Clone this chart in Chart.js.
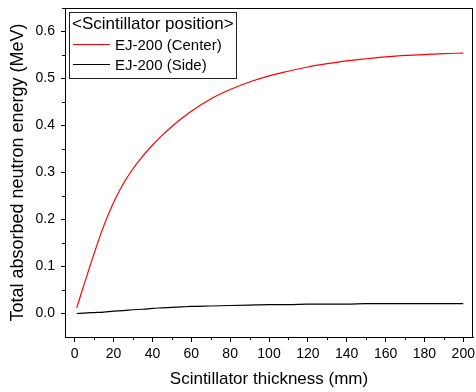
<!DOCTYPE html>
<html>
<head>
<meta charset="utf-8">
<script src="https://cdn.jsdelivr.net/npm/chart.js@4"></script>
<style>
  html, body { margin: 0; padding: 0; background: #fff; }
  #wrap { width: 476px; height: 392px; }
</style>
</head>
<body>
<div id="wrap"><canvas id="chart" width="476" height="392"></canvas></div>
<script>
const thickness = [1, 5, 10, 15, 20, 25, 30, 35, 40, 45, 50, 55, 60, 70, 80, 90, 100, 110, 120, 130, 140, 150, 160, 170, 180, 190, 200];
const centerEnergy = [0.012, 0.064, 0.128, 0.187, 0.236, 0.276, 0.308, 0.335, 0.358, 0.379, 0.398, 0.415, 0.4305, 0.4565, 0.4765, 0.4925, 0.5055, 0.5155, 0.5245, 0.5315, 0.5375, 0.542, 0.546, 0.549, 0.551, 0.553, 0.554];
const sideEnergy = [0.000, 0.001, 0.002, 0.003, 0.005, 0.006, 0.008, 0.009, 0.011, 0.012, 0.013, 0.014, 0.015, 0.016, 0.017, 0.018, 0.019, 0.019, 0.020, 0.020, 0.020, 0.021, 0.021, 0.021, 0.021, 0.021, 0.021];
const xTicks = [0, 20, 40, 60, 80, 100, 120, 140, 160, 180, 200];
const yTicks = [0.0, 0.1, 0.2, 0.3, 0.4, 0.5, 0.6];
const legendTitle = '<Scintillator position>';

const FONT = 'Liberation Sans, Arial, sans-serif';

function toPoints(xs, ys) {
    return xs.map(function (x, i) { return { x: x, y: ys[i] }; });
}

// frame, minor ticks and the boxed legend inside the plot
const extras = {
    id: 'extras',
    afterDraw: function (chart) {
        const ctx = chart.ctx;
        const a = chart.chartArea;
        const xs = chart.scales.x;
        const ys = chart.scales.y;
        ctx.save();
        ctx.strokeStyle = '#000';
        ctx.lineWidth = 1;
        ctx.strokeRect(Math.round(a.left) + 0.5, Math.round(a.top) + 0.5,
            Math.round(a.right - a.left) - 1, Math.round(a.bottom - a.top));

        // minor ticks
        ctx.beginPath();
        for (let v = 10; v < 200; v += 20) {
            const px = Math.round(xs.getPixelForValue(v)) + 0.5;
            ctx.moveTo(px, a.bottom);
            ctx.lineTo(px, a.bottom + 3);
        }
        for (let v = 0.05; v < 0.65; v += 0.1) {
            const py = Math.round(ys.getPixelForValue(v)) + 0.5;
            ctx.moveTo(a.left, py);
            ctx.lineTo(a.left - 3, py);
        }
        ctx.stroke();

        // legend
        ctx.strokeStyle = '#222';
        ctx.strokeRect(69.5, 12.5, 167, 66);
        ctx.fillStyle = '#000';
        ctx.textBaseline = 'middle';
        ctx.textAlign = 'left';
        ctx.font = '17px ' + FONT;
        ctx.fillText(legendTitle, 72, 24);
        ctx.font = '15px ' + FONT;
        const rows = [46, 66];
        chart.data.datasets.forEach(function (ds, i) {
            ctx.strokeStyle = ds.borderColor;
            ctx.beginPath();
            ctx.moveTo(73, rows[i] - 1.5);
            ctx.lineTo(110, rows[i] - 1.5);
            ctx.stroke();
            ctx.fillText(ds.label, 115, rows[i]);
        });
        ctx.restore();
    }
};

new Chart(document.getElementById('chart'), {
    type: 'line',
    data: {
        datasets: [
            {
                label: 'EJ-200 (Center)',
                data: toPoints(thickness, centerEnergy),
                borderColor: '#ff0000',
                borderWidth: 1.2,
                pointRadius: 0,
                cubicInterpolationMode: 'monotone',
                fill: false
            },
            {
                label: 'EJ-200 (Side)',
                data: toPoints(thickness, sideEnergy),
                borderColor: '#000000',
                borderWidth: 1.2,
                pointRadius: 0,
                cubicInterpolationMode: 'monotone',
                fill: false
            }
        ]
    },
    options: {
        responsive: false,
        animation: false,
        layout: { padding: { top: 8, right: 3, left: 0, bottom: 0 } },
        plugins: {
            legend: { display: false },
            tooltip: { enabled: false }
        },
        scales: {
            x: {
                type: 'linear',
                min: -5,
                max: 205,
                afterBuildTicks: function (scale) {
                    scale.ticks = xTicks.map(function (v) { return { value: v }; });
                },
                afterFit: function (scale) {
                    scale.height = 55;
                    scale.paddingLeft = 0;
                    scale.paddingRight = 0;
                },
                grid: { drawOnChartArea: false, drawTicks: true, tickLength: 5, color: '#000', tickColor: '#000' },
                border: { display: true, color: '#000', width: 1 },
                ticks: { color: '#000', font: { family: FONT, size: 14 }, padding: 4, maxRotation: 0 },
                title: {
                    display: true,
                    text: 'Scintillator thickness (mm)',
                    color: '#000',
                    font: { family: FONT, size: 17 },
                    padding: { top: 0, bottom: 2 }
                }
            },
            y: {
                type: 'linear',
                min: -0.05,
                max: 0.65,
                afterBuildTicks: function (scale) {
                    scale.ticks = yTicks.map(function (v) { return { value: v }; });
                },
                afterFit: function (scale) {
                    scale.width = 65;
                    scale.paddingTop = 0;
                    scale.paddingBottom = 0;
                },
                grid: { drawOnChartArea: false, drawTicks: true, tickLength: 4, color: '#000', tickColor: '#000' },
                border: { display: true, color: '#000', width: 1 },
                ticks: {
                    color: '#000',
                    font: { family: FONT, size: 14 },
                    padding: 6,
                    callback: function (v) { return v.toFixed(1); }
                },
                title: {
                    display: true,
                    text: 'Total absorbed neutron energy (MeV)',
                    color: '#000',
                    font: { family: FONT, size: 18 },
                    padding: { top: 7, bottom: 0 }
                }
            }
        }
    },
    plugins: [extras]
});
</script>
</body>
</html>
